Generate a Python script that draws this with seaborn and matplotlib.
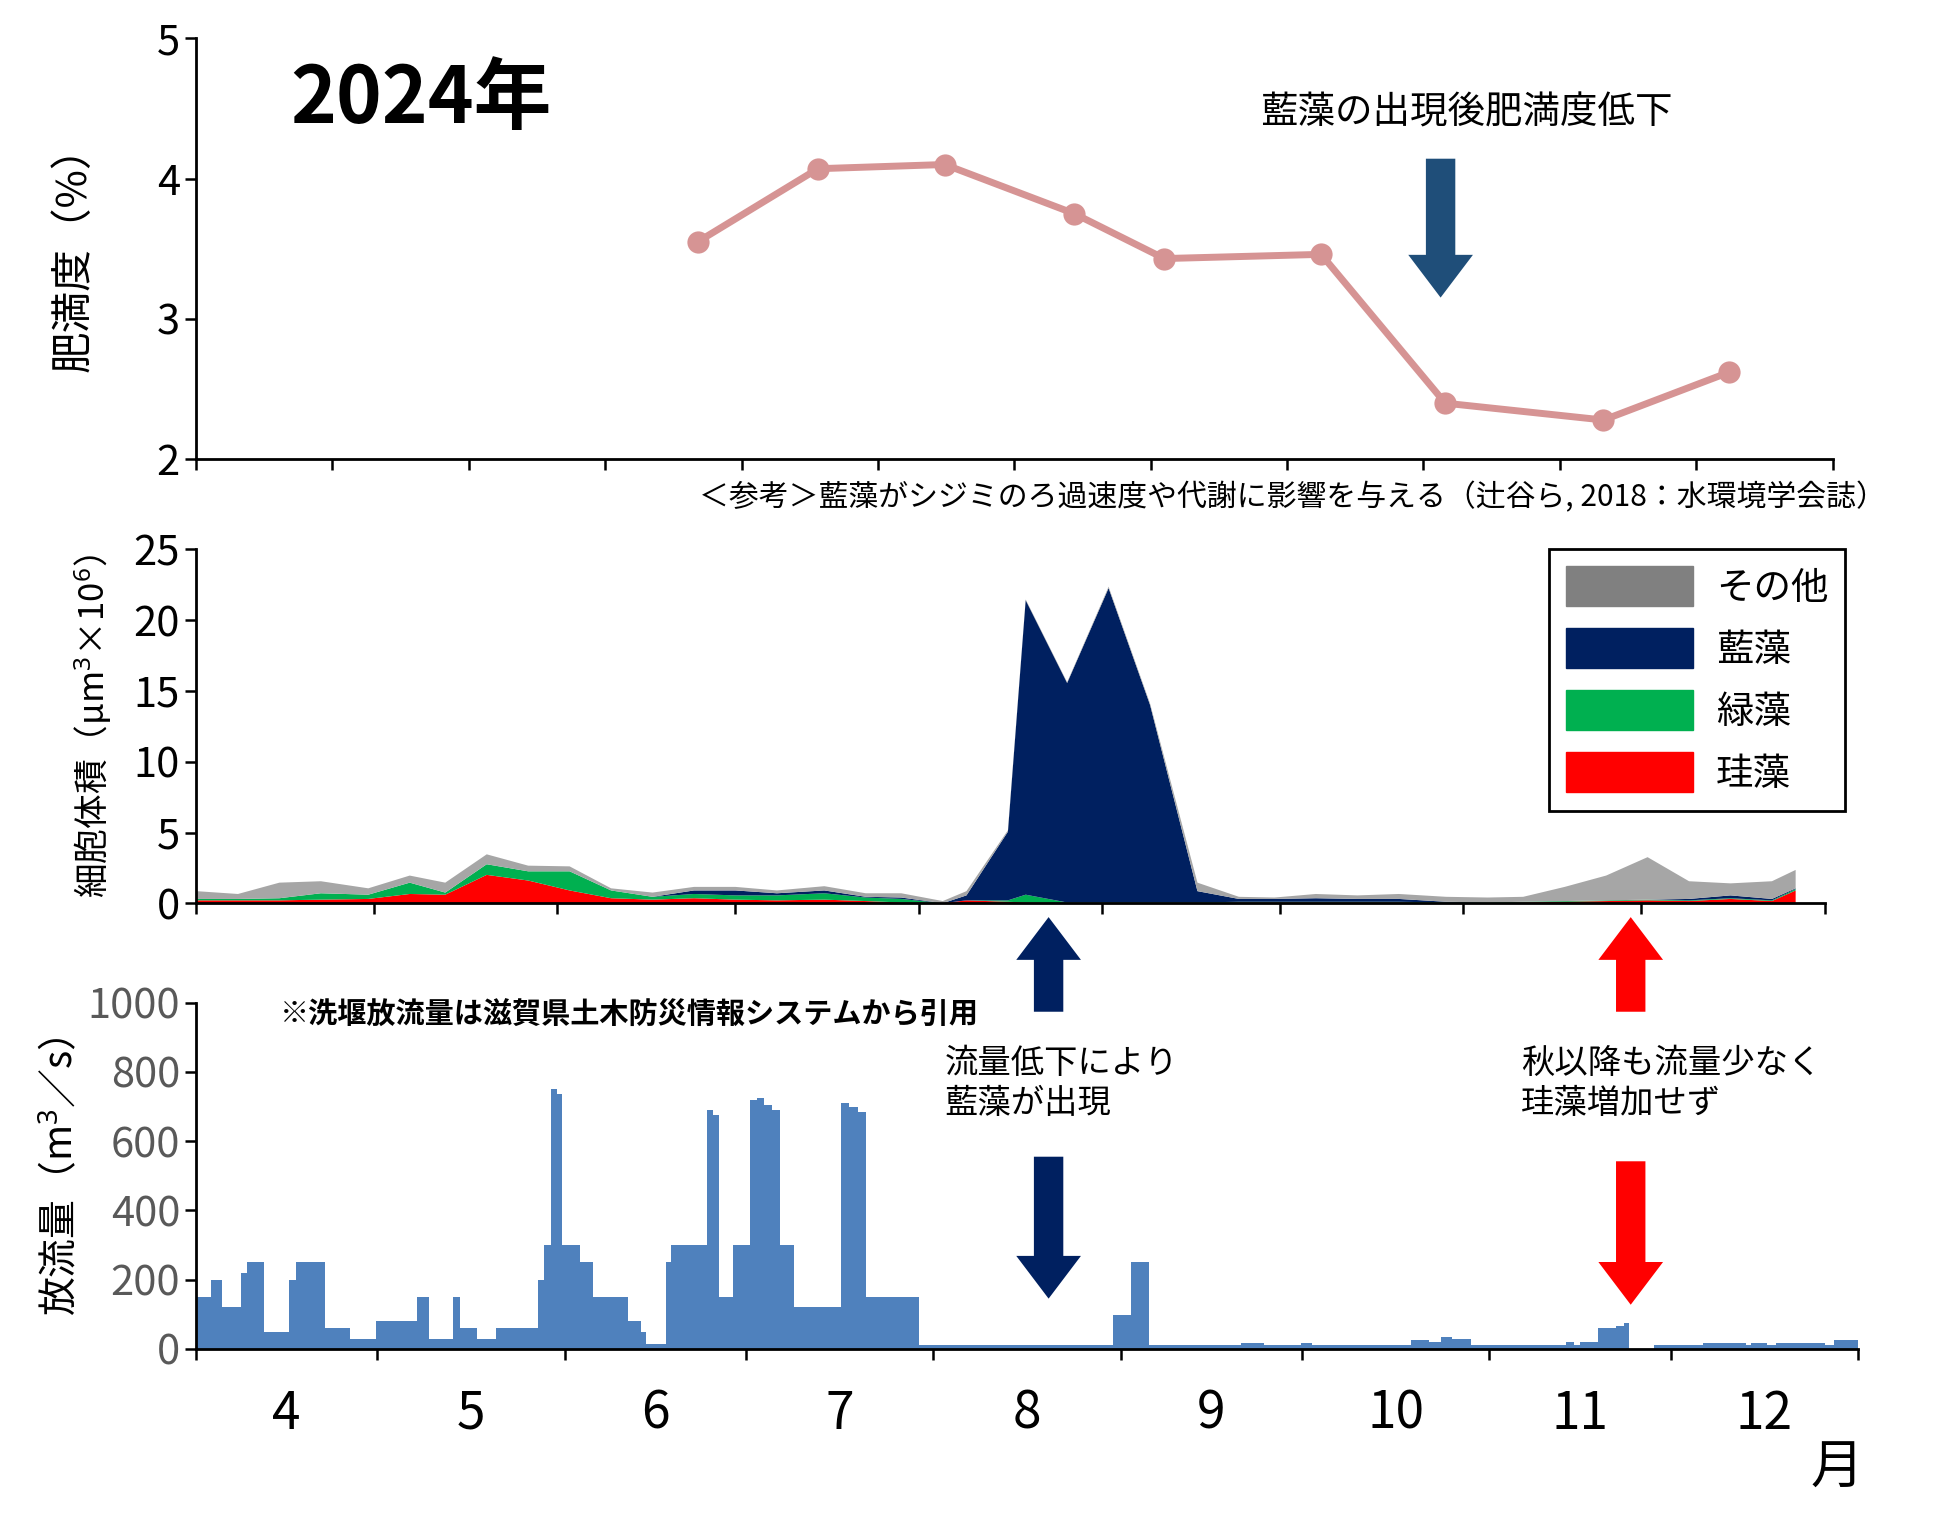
import numpy as np
import pandas as pd
import matplotlib
matplotlib.use("Agg")
import matplotlib.pyplot as plt
import seaborn as sns
from matplotlib.patches import FancyArrow, Patch

sns.set_style("white")
plt.rcParams["font.family"] = "sans-serif"
plt.rcParams["font.sans-serif"] = ["Noto Sans CJK JP", "DejaVu Sans"]
plt.rcParams["mathtext.fontset"] = "custom"
plt.rcParams["mathtext.rm"] = "Noto Sans"
plt.rcParams["mathtext.it"] = "Noto Sans"
plt.rcParams["text.color"] = "black"
plt.rcParams["axes.labelcolor"] = "black"
plt.rcParams["xtick.color"] = "black"
plt.rcParams["ytick.color"] = "black"

# ---------------- data ----------------
cond_x = [3.68, 4.56, 5.49, 6.44, 7.10, 8.25, 9.16, 10.32, 11.24]
cond_y = [3.55, 4.07, 4.10, 3.75, 3.43, 3.46, 2.40, 2.28, 2.62]

phy_day = [0, 7, 14, 21, 29, 36, 42, 49, 56, 63, 70, 77, 84, 91, 98, 106, 113, 119,
           126, 130, 137, 140, 147, 154, 161, 169, 176, 182, 189, 196, 203, 211, 218,
           224, 231, 238, 245, 252, 259, 266, 270]
diatom = [0.25, 0.25, 0.25, 0.3, 0.35, 0.7, 0.65, 2.05, 1.65, 0.95, 0.4, 0.3, 0.4, 0.3,
          0.25, 0.3, 0.2, 0.1, 0.05, 0.25, 0.15, 0.1, 0.05, 0.05, 0.05, 0.05, 0.1, 0.1,
          0.1, 0.1, 0.1, 0.05, 0.05, 0.1, 0.15, 0.2, 0.25, 0.2, 0.35, 0.2, 0.95]
green = [0.1, 0.1, 0.15, 0.45, 0.3, 0.8, 0.15, 0.75, 0.65, 1.35, 0.55, 0.2, 0.3, 0.3,
         0.35, 0.45, 0.25, 0.25, 0.0, 0.0, 0.1, 0.55, 0.05, 0.05, 0.05, 0.05, 0.05,
         0.05, 0.05, 0.05, 0.05, 0.05, 0.05, 0.05, 0.05, 0.05, 0.05, 0.05, 0.05, 0.05, 0.1]
blue = [0.0, 0.0, 0.0, 0.0, 0.0, 0.0, 0.0, 0.0, 0.0, 0.0, 0.0, 0.0, 0.25, 0.35,
        0.15, 0.2, 0.05, 0.1, 0.0, 0.35, 4.85, 20.8, 15.5, 22.2, 13.95, 0.8, 0.2, 0.2,
        0.25, 0.2, 0.2, 0.05, 0.0, 0.0, 0.0, 0.0, 0.0, 0.1, 0.2, 0.1, 0.05]
other = [0.55, 0.35, 1.1, 0.85, 0.45, 0.5, 0.7, 0.7, 0.4, 0.35, 0.15, 0.3, 0.25, 0.25,
         0.2, 0.3, 0.25, 0.3, 0.15, 0.3, 0.1, 0.05, 0.05, 0.1, 0.1, 0.6, 0.15, 0.1,
         0.3, 0.25, 0.35, 0.35, 0.35, 0.35, 1.0, 1.75, 3.0, 1.25, 0.85, 1.25, 1.3]

flow_start = [0, 2.5, 4.3, 7.5, 8.5, 11.3, 15.4, 16.6, 21.4, 25.4, 29.7, 36.5, 38.5,
              42.5, 43.6, 46.5, 49.6, 56.6, 57.6, 58.7, 59.7, 60.6, 63.6, 65.7, 71.5,
              73.7, 74.5, 77.8, 78.6, 84.6, 85.6, 86.5, 88.9, 91.6, 92.8, 94.0, 95.3,
              96.6, 98.9, 106.8, 108.0, 109.5, 110.9, 119.7, 151.7, 154.7, 157.6, 172.9,
              176.7, 182.8, 184.6, 201.0, 204.0, 206.0, 207.8, 211.0, 226.6, 228.0,
              229.0, 232.0, 235.0, 236.2, 237.1, 241.3, 249.4, 256.4, 257.3, 260.0,
              261.5, 269.5, 271.0]
flow_val = [150, 200, 120, 220, 250, 50, 200, 250, 60, 30, 80, 150, 30,
            150, 60, 30, 60, 200, 300, 750, 735, 300, 250, 150, 80,
            50, 15, 250, 300, 690, 675, 150, 300, 720, 725, 705, 690,
            300, 120, 710, 700, 685, 150, 12, 97, 250, 12, 18,
            12, 18, 12, 25, 20, 35, 30, 12, 20, 12,
            20, 60, 65, 75, 0, 12, 18, 12, 18, 12,
            18, 12, 25]
flow_end = 275

month_edges = [0, 30, 61, 91, 122, 153, 183, 214, 244, 275]
month_labels = ["4", "5", "6", "7", "8", "9", "10", "11", "12"]

# ---------------- figure ----------------
fig = plt.figure(figsize=(19.6, 15.26), dpi=100)
NAVY = "#002060"

ax1 = fig.add_axes([0.100, 0.699, 0.835, 0.276])
df1 = pd.DataFrame({"x": cond_x, "y": cond_y})
sns.lineplot(data=df1, x="x", y="y", ax=ax1, color="#D69494", lw=5,
             marker="o", markersize=16, markeredgewidth=0)
ax1.set_xlim(0, 12)
ax1.set_ylim(2, 5)
ax1.set_xticks(np.arange(0, 13))
ax1.set_xticklabels([])
ax1.set_yticks([2, 3, 4, 5])
ax1.set_ylabel("肥満度（%）", fontsize=30, labelpad=45)

ax2 = fig.add_axes([0.100, 0.408, 0.831, 0.232])
layers = [diatom, green, blue, other]
colors = ["#FF0000", "#00B050", NAVY, "#A6A6A6"]
base = np.zeros(len(phy_day))
for vals, c in zip(layers, colors):
    top = base + np.array(vals)
    ax2.fill_between(phy_day, base, top, color=c, lw=0)
    base = top
ax2.set_xlim(0, 269.4)
ax2.set_ylim(0, 25)
ax2.set_xticks(month_edges)
ax2.set_xticklabels([])
ax2.set_yticks([0, 5, 10, 15, 20, 25])
ax2.set_ylabel("細胞体積（μm$^{3}$×10$^{6}$）", fontsize=25, labelpad=14)
handles = [Patch(color="#808080"), Patch(color=NAVY), Patch(color="#00B050"), Patch(color="#FF0000")]
leg = ax2.legend(handles, ["その他", "藍藻", "緑藻", "珪藻"], loc="upper right",
                 bbox_to_anchor=(1.0125, 1.0), fontsize=27, handlelength=3.4,
                 handleheight=1.25, labelspacing=0.55, fancybox=False,
                 edgecolor="black", framealpha=1, borderpad=0.45, handletextpad=0.6,
                 borderaxespad=0.0)
leg.get_frame().set_linewidth(2)

ax3 = fig.add_axes([0.100, 0.116, 0.848, 0.227])
xs = list(flow_start) + [flow_end]
ys = list(flow_val) + [flow_val[-1]]
ax3.fill_between(xs, 0, ys, step="post", color="#4F81BD", lw=0)
ax3.set_xlim(0, 275)
ax3.set_ylim(0, 1000)
ax3.set_xticks(month_edges)
ax3.set_xticklabels([])
centers = [(a + b) / 2 for a, b in zip(month_edges[:-1], month_edges[1:])]
for c, lab in zip(centers, month_labels):
    ax3.text(c, -0.11, lab, transform=ax3.get_xaxis_transform(), ha="center",
             va="top", fontsize=37)
ax3.set_yticks([0, 200, 400, 600, 800, 1000])
ax3.set_ylabel("放流量（m$^{3}$／s）", fontsize=28, labelpad=4)

for ax in (ax1, ax2, ax3):
    sns.despine(ax=ax)
    for s in ("left", "bottom"):
        ax.spines[s].set_linewidth(2)
        ax.spines[s].set_color("black")
    ax.tick_params(axis="both", direction="out", length=8, width=1.8, labelsize=30,
                   bottom=True, left=True)
    ax.set_xlabel("")
ax3.tick_params(axis="y", labelcolor="#595959")

fig.text(0.148, 0.934, "2024年", fontsize=56, fontweight="bold", ha="left", va="center")
fig.text(0.748, 0.926, "藍藻の出現後肥満度低下", fontsize=27, ha="center", va="center")
fig.text(0.962, 0.674, "＜参考＞藍藻がシジミのろ過速度や代謝に影響を与える（辻谷ら, 2018：水環境学会誌）",
         fontsize=21.5, ha="right", va="center")
fig.text(0.143, 0.335, "※洗堰放流量は滋賀県土木防災情報システムから引用", fontsize=21,
         fontweight="bold", ha="left", va="center")
fig.text(0.482, 0.290, "流量低下により\n藍藻が出現", fontsize=24, ha="left", va="center",
         linespacing=1.2)
fig.text(0.776, 0.290, "秋以降も流量少なく\n珪藻増加せず", fontsize=24, ha="left", va="center",
         linespacing=1.2)
fig.text(0.937, 0.038, "月", fontsize=38, ha="center", va="center")

def varrow(x, y0, y1, color):
    fig.patches.append(FancyArrow(x, y0, 0, y1 - y0, width=0.015, head_width=0.033,
                                  head_length=0.028, length_includes_head=True,
                                  color=color, transform=fig.transFigure, lw=0))

varrow(0.735, 0.896, 0.805, "#1F4E79")
varrow(0.535, 0.337, 0.399, NAVY)
varrow(0.832, 0.337, 0.399, "#FF0000")
varrow(0.535, 0.242, 0.149, NAVY)
varrow(0.832, 0.239, 0.145, "#FF0000")

fig.savefig("out.png", dpi=100)
